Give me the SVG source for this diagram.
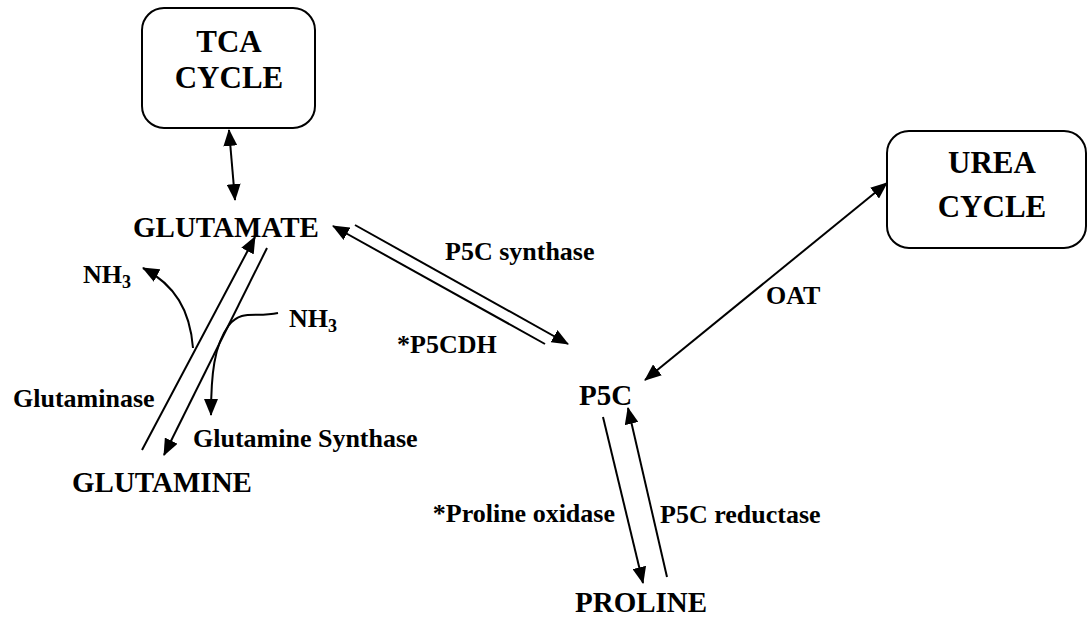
<svg xmlns="http://www.w3.org/2000/svg" width="1090" height="617" viewBox="0 0 1090 617">
<style>
text{font-family:"Liberation Serif","Times New Roman",serif;font-weight:bold;fill:#000}
.box{fill:#fff;stroke:#000;stroke-width:2}
.name{font-size:29px}
.cyc{font-size:31px;text-anchor:middle}
.lbl{font-size:26px}
.c{fill:none;stroke:#000;stroke-width:2}
</style>
<defs>
<marker id="ah" viewBox="0 0 17 14" refX="16" refY="7" markerWidth="17" markerHeight="14" orient="auto-start-reverse" markerUnits="userSpaceOnUse">
<path d="M0,0 L17,7 L0,14 z" fill="#000"/>
</marker>
</defs>
<rect width="1090" height="617" fill="#fff"/>
<g id="tca">
<rect class="box" x="142" y="8" width="173" height="120" rx="22"/>
<text class="cyc" x="229" y="52">TCA</text>
<text class="cyc" x="229" y="88">CYCLE</text>
</g>
<g id="urea">
<rect class="box" x="887" y="131" width="199" height="117" rx="22"/>
<text class="cyc" x="992" y="173">UREA</text>
<text class="cyc" x="992" y="217">CYCLE</text>
</g>
<g id="glutamate"><text class="name" x="133" y="237">GLUTAMATE</text></g>
<g id="glutamine"><text class="name" x="72" y="492">GLUTAMINE</text></g>
<g id="p5c"><text class="name" x="579" y="405">P5C</text></g>
<g id="proline"><text class="name" x="575" y="612">PROLINE</text></g>
<g id="nh3-left"><text class="lbl" x="83" y="283">NH<tspan font-size="18" dy="5">3</tspan></text></g>
<g id="nh3-right"><text class="lbl" x="289" y="327">NH<tspan font-size="18" dy="5">3</tspan></text></g>
<g id="labels">
<text class="lbl" x="13" y="407">Glutaminase</text>
<text class="lbl" x="193" y="447">Glutamine Synthase</text>
<text class="lbl" x="445" y="260">P5C synthase</text>
<text class="lbl" x="397" y="353">*P5CDH</text>
<text class="lbl" x="766" y="304">OAT</text>
<text class="lbl" x="615" y="522" text-anchor="end">*Proline oxidase</text>
<text class="lbl" x="660" y="523">P5C reductase</text>
</g>
<g id="connectors">
<line class="c" x1="229" y1="130" x2="235" y2="200" marker-start="url(#ah)" marker-end="url(#ah)"/>
<line class="c" x1="142" y1="450" x2="255" y2="237" marker-end="url(#ah)"/>
<line class="c" x1="267" y1="248" x2="164" y2="455" marker-end="url(#ah)"/>
<path class="c" d="M193,348 C190,310 175,285 143,268" marker-end="url(#ah)"/>
<path class="c" d="M278,313 C255,318 242,309 229,325 C214,345 211,375 211,415" marker-end="url(#ah)"/>
<line class="c" x1="355" y1="225" x2="568" y2="344" marker-end="url(#ah)"/>
<line class="c" x1="545" y1="344" x2="333" y2="226" marker-end="url(#ah)"/>
<line class="c" x1="645" y1="380" x2="887" y2="183" marker-start="url(#ah)" marker-end="url(#ah)"/>
<line class="c" x1="603" y1="417" x2="643" y2="583" marker-end="url(#ah)"/>
<line class="c" x1="667" y1="577" x2="628" y2="408" marker-end="url(#ah)"/>
</g>
</svg>
